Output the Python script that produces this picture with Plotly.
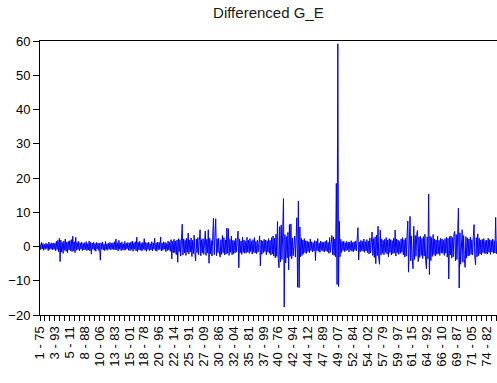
import plotly.graph_objects as go

# ---- data ----
title_text = "Differenced G_E"

# observation step between stored values (obs index units)
obs_step = 5

# series values, one row per 100-observation block
block_values = [
    [0.8,-0.9,1.2,-0.7,0.9,-1.1,0.6,-0.8,1.0,-0.6,0.7,-1.2,1.3,-0.9,0.8,-0.7,1.1,-1.0,0.9,-0.8],
    [1.0,-1.3,1.5,-0.9,1.8,-1.5,2.4,-4.4,1.9,-1.6,1.2,-2.0,1.6,-1.1,2.2,-1.4,1.3,-1.8,1.5,-1.0],
    [1.7,-1.2,2.0,-1.5,3.0,-1.3,1.4,-1.8,2.7,-1.1,1.2,-0.9,1.5,-1.3,1.0,-0.8,1.3,-1.2,0.9,-1.0],
    [1.1,-0.9,1.4,-1.2,0.8,-1.0,1.6,-1.3,1.2,-2.2,1.0,-0.8,1.3,-1.1,0.9,-1.4,1.2,-0.7,1.0,-1.2],
    [0.9,-4.0,1.1,-0.8,1.3,-1.0,0.7,-1.2,1.5,-0.9,0.8,-1.1,1.0,-0.7,1.2,-1.0,0.9,-0.8,1.1,-0.9],
    [1.4,-1.0,2.2,-0.9,1.1,-1.3,1.8,-0.8,1.0,-1.2,1.3,-0.9,0.8,-1.1,1.5,-1.0,0.9,-0.7,1.2,-1.1],
    [1.0,-1.2,1.3,-0.9,1.6,-1.4,1.1,-0.8,1.4,-1.3,2.7,-1.5,1.2,-1.0,1.5,-1.1,0.9,-1.3,1.2,-0.8],
    [2.3,-1.1,1.2,-1.4,1.0,-0.9,1.3,-1.2,0.8,-1.0,1.4,-1.3,1.1,-0.8,2.4,-1.2,1.0,-1.4,1.3,-0.9],
    [1.2,-0.9,2.8,-1.3,1.0,-1.1,1.4,-0.8,1.2,-1.5,0.9,-1.2,1.6,-1.0,1.3,-1.4,2.0,-3.6,1.5,-1.8],
    [2.1,-1.8,1.6,-2.4,1.9,-4.6,2.3,-1.5,2.0,-2.8,1.7,6.5,-2.5,2.2,-1.9,1.8,-2.6,2.4,-1.7,3.9],
    [-2.2,1.9,-1.6,2.5,-2.9,1.8,-2.1,3.3,-1.7,-4.2,2.2,-1.8,2.6,-2.4,1.7,4.9,-2.7,2.0,-1.9,2.3],
    [-2.3,1.8,4.5,-2.6,2.1,-1.9,4.9,-4.9,2.4,-2.2,1.7,-2.8,2.6,8.3,-2.4,1.9,8.1,-2.7,2.2,-1.8],
    [2.4,-1.9,-3.1,2.0,-2.3,3.2,-1.8,2.6,-2.5,1.9,-2.2,5.4,-2.0,5.2,-2.6,2.1,-1.7,3.0,-2.4,1.8],
    [-2.1,1.7,-1.9,2.4,-1.6,2.0,4.5,-6.2,2.2,-1.8,1.6,-2.3,2.8,-1.7,1.9,-2.0,1.5,-1.9,2.7,-1.6],
    [1.8,-2.0,2.3,-1.5,1.6,-2.2,2.0,-1.7,2.6,-1.9,1.5,-2.1,1.8,-1.6,2.2,3.1,-5.7,1.9,-2.3,1.6],
    [-1.8,2.1,-1.5,1.9,-2.4,1.7,-1.6,2.3,-2.0,1.8,-2.5,2.6,-2.2,3.1,-2.8,2.4,-3.3,3.6,-2.9,7.3],
    [-3.5,-6.2,5.8,-4.5,6.3,-3.8,4.2,14.0,-17.7,3.5,-4.8,2.9,-3.3,4.1,-6.8,6.4,-2.9,6.6,-3.6,2.5],
    [-2.7,2.2,3.0,-3.1,2.6,8.4,-11.9,13.3,-12.0,5.7,-3.0,2.4,-2.6,1.9,-2.1,2.3,-1.8,1.7,-2.0,1.6],
    [-1.5,1.3,-1.8,2.2,-1.2,1.4,-1.6,1.1,-1.3,1.7,-4.1,1.5,-1.2,2.3,-1.4,1.0,-1.7,1.6,-1.1,1.3],
    [-1.4,1.2,-1.6,1.5,-1.3,1.8,-1.5,1.2,-2.0,2.6,-1.7,2.9,3.2,-2.4,2.8,-2.6,2.2,-3.0,18.4,-11.1],
    [59.2,-11.7,7.4,-3.0,2.1,-1.8,1.4,-1.2,1.6,-1.5,1.1,-1.3,1.5,-1.0,1.2,-1.6,1.3,-1.1,1.7,-1.4],
    [1.2,-1.5,1.4,-1.1,1.6,-1.3,1.0,5.5,-3.9,1.3,-1.6,1.8,-1.2,1.5,-1.4,2.2,-1.7,1.4,-1.3,2.0],
    [-1.8,1.6,-2.2,2.5,-1.9,3.0,4.2,-2.6,2.3,-3.2,2.8,-5.0,3.3,-2.7,5.9,-3.4,-5.2,4.8,-2.5,2.2],
    [-2.0,1.8,-2.4,2.1,-1.7,2.6,-2.2,1.9,-3.0,2.3,-1.8,2.0,-2.5,1.7,-2.1,2.4,-1.9,4.8,-2.8,2.2],
    [-1.8,1.9,-2.3,1.5,-2.0,2.2,-1.7,2.6,-2.5,2.0,-3.1,2.4,-2.8,3.3,7.4,-7.5,2.9,8.8,-4.2,3.1],
    [-3.3,-6.5,5.9,-3.8,3.2,-2.9,3.5,4.7,-4.4,2.8,-3.2,3.0,-2.6,2.4,-3.5,2.9,-2.8,3.6,-4.0,-6.5],
    [2.8,-3.6,15.3,-8.2,3.0,-4.1,2.6,-2.9,3.5,-2.4,2.2,-2.8,1.9,-2.3,3.0,-2.1,1.8,-2.6,2.4,-1.9],
    [2.2,-2.0,1.8,-2.6,2.3,-1.9,2.7,-3.1,2.4,-9.5,2.9,-2.5,3.1,-3.4,2.6,-3.0,3.8,4.4,-4.2,3.5],
    [-3.8,3.3,11.2,-12.1,4.0,-5.2,3.6,4.9,-4.6,3.2,-3.8,-6.1,2.9,-3.4,2.5,-2.8,2.2,-2.6,2.8,-2.3],
    [2.0,-2.5,2.9,6.4,-3.1,-5.3,2.6,-3.0,3.7,-2.7,2.4,-2.2,1.9,-2.4,2.1,-1.8,2.3,-2.0,1.7,-2.1],
    [1.9,-2.2,2.4,-1.7,2.0,-2.3,1.8,-1.6,2.2,-2.0,1.7,-1.9,8.5,-2.1,1.6],
]

# x tick labels (cross-section - year), one every 100 observations
tick_labels = [
    "1 - 75", "3 - 93", "5 - 11", "8 - 88", "10 - 06", "13 - 83", "15 - 01",
    "18 - 78", "20 - 96", "22 - 14", "25 - 91", "27 - 09", "30 - 86", "32 - 04",
    "35 - 81", "37 - 99", "40 - 76", "42 - 94", "44 - 12", "47 - 89", "49 - 07",
    "52 - 84", "54 - 02", "57 - 79", "59 - 97", "61 - 15", "64 - 92", "66 - 10",
    "69 - 87", "71 - 05", "74 - 82",
]
label_every = 100
y_ticks = [-20, -10, 0, 10, 20, 30, 40, 50, 60]

# ---- build ----
values = [v for blk in block_values for v in blk]
x_obs = [i * obs_step for i in range(len(values))]

# ticks every third of a label interval, labels on every third tick
tickvals, ticktext = [], []
for k, lab in enumerate(tick_labels):
    for m in range(3):
        tickvals.append(k * label_every + m * label_every / 3)
        ticktext.append(lab if m == 0 else "")
tickvals.append(len(tick_labels) * label_every)
ticktext.append("")

font_family = "Liberation Sans, Arial, sans-serif"

fig = go.Figure()
fig.add_trace(go.Scatter(
    x=x_obs, y=values, mode="lines",
    line=dict(color="#0000FF", width=1),
    hoverinfo="skip", showlegend=False,
))

fig.update_layout(
    width=497, height=383,
    margin=dict(l=40, r=0, t=41, b=68),
    paper_bgcolor="white", plot_bgcolor="white",
    title=dict(text=title_text, x=0.54, xref="container", xanchor="center",
               y=1 - 13 / 383, yref="container", yanchor="middle",
               font=dict(family=font_family, size=15, color="#1a1a1a")),
    font=dict(family=font_family, size=13, color="black"),
)
fig.update_xaxes(
    range=[0, 3069], tickmode="array", tickvals=tickvals, ticktext=ticktext,
    tickangle=-90, ticks="outside", ticklen=5, tickcolor="black", tickwidth=1,
    showline=True, linecolor="black", linewidth=1, mirror=True,
    showgrid=False, zeroline=False,
    tickfont=dict(family=font_family, size=13, color="black"),
)
fig.update_yaxes(
    range=[-20, 60], tickmode="array", tickvals=y_ticks,
    ticks="outside", ticklen=6, tickcolor="black", tickwidth=1,
    showline=True, linecolor="black", linewidth=1, mirror=False,
    showgrid=False, zeroline=False,
    tickfont=dict(family=font_family, size=13, color="black"),
)

fig.write_html("out.html")
